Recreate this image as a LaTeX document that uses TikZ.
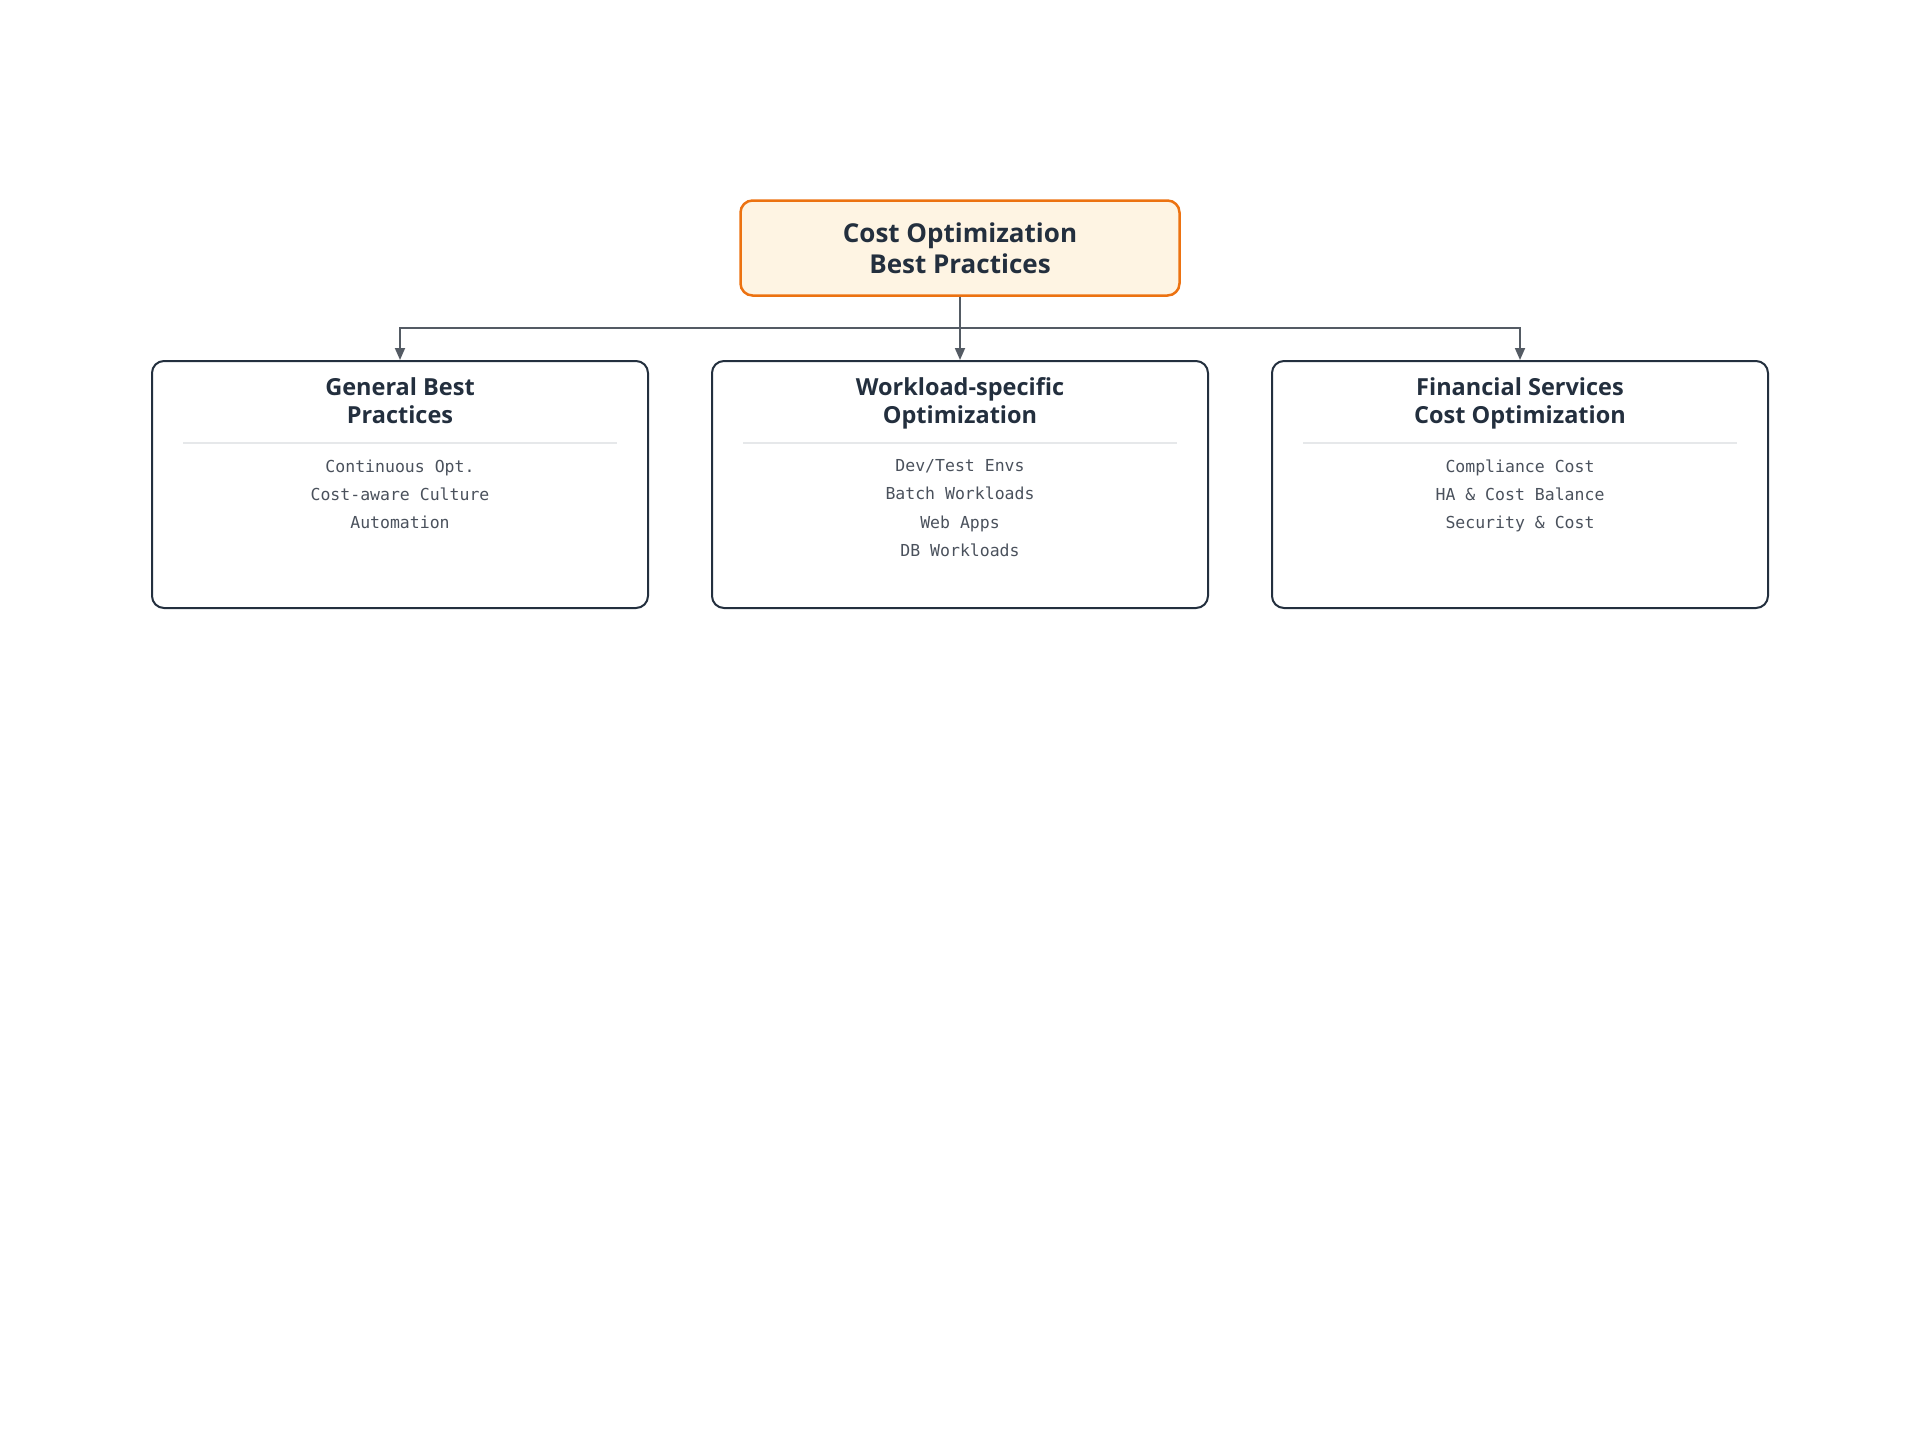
\documentclass[tikz,border=0pt]{standalone}
\usepackage{fontspec}
\setmainfont{Open Sans}
\newfontfamily\monofont{DejaVu Sans Mono}
\usetikzlibrary{arrows.meta, positioning}

\definecolor{squid}{HTML}{232F3E}
\definecolor{awsorange}{HTML}{EC7211}
\definecolor{cream}{HTML}{FEF4E3}
\definecolor{linegray}{HTML}{545B64}
\definecolor{itemgray}{HTML}{4A515C}
\definecolor{sepgray}{HTML}{E6E8EA}

\begin{document}
\begin{tikzpicture}[x=1pt, y=-1pt,
  rootbox/.style={draw=awsorange, line width=2.5pt, fill=cream, rounded corners=12pt,
    minimum width=439pt, minimum height=95pt, align=center, text=squid,
    font=\bfseries\fontsize{26}{30.5}\selectfont},
  groupbox/.style={draw=squid, line width=2pt, rounded corners=12pt,
    minimum width=496pt, minimum height=247pt, anchor=north},
  grouptitle/.style={align=center, text=squid, inner sep=0pt, text depth=7pt,
    font=\bfseries\fontsize{23.5}{28}\selectfont},
  itemlist/.style={align=center, text=itemgray, inner sep=0pt, anchor=north,
    font=\monofont\fontsize{16.5}{28.2}\selectfont},
  link/.style={-{Triangle[length=12pt,width=10pt]}, line width=1.8pt, draw=linegray},
  sepline/.style={draw=sepgray, line width=1.5pt}]

  \useasboundingbox (0,0) rectangle (1920,1440);

  % Root node
  \node[rootbox] (root) at (960,248) {Cost Optimization\\Best Practices};

  % Group boxes
  \node[groupbox] (gen)  at (400,360)  {};
  \node[groupbox] (work) at (960,360)  {};
  \node[groupbox] (fin)  at (1520,360) {};

  % Titles
  \node[grouptitle] (gentitle)  at ([yshift=-44.5pt]gen.north)  {General Best\\Practices};
  \node[grouptitle] (worktitle) at ([yshift=-44.5pt]work.north) {Workload-specific\\Optimization};
  \node[grouptitle] (fintitle)  at ([yshift=-44.5pt]fin.north)  {Financial Services\\Cost Optimization};

  % Separators
  \draw[sepline] ([xshift=32pt,yshift=-83pt]gen.north west) -- ([xshift=-32pt,yshift=-83pt]gen.north east);
  \draw[sepline] ([xshift=32pt,yshift=-83pt]work.north west) -- ([xshift=-32pt,yshift=-83pt]work.north east);
  \draw[sepline] ([xshift=32pt,yshift=-83pt]fin.north west) -- ([xshift=-32pt,yshift=-83pt]fin.north east);

  % Items
  \node[itemlist] (genitems)  at ([yshift=-99.5pt]gen.north)  {Continuous Opt.\\Cost-aware Culture\\Automation};
  \node[itemlist] (workitems) at ([yshift=-99.5pt]work.north) {Dev/Test Envs\\Batch Workloads\\Web Apps\\DB Workloads};
  \node[itemlist] (finitems)  at ([yshift=-99.5pt]fin.north)  {Compliance Cost\\HA \& Cost Balance\\Security \& Cost};

  % Connectors
  \coordinate (bus) at (960,328);
  \draw[link] (root.south) -- (bus) -| (gen.north);
  \draw[link] (root.south) -- (work.north);
  \draw[link] (bus) -| (fin.north);

\end{tikzpicture}
\end{document}
